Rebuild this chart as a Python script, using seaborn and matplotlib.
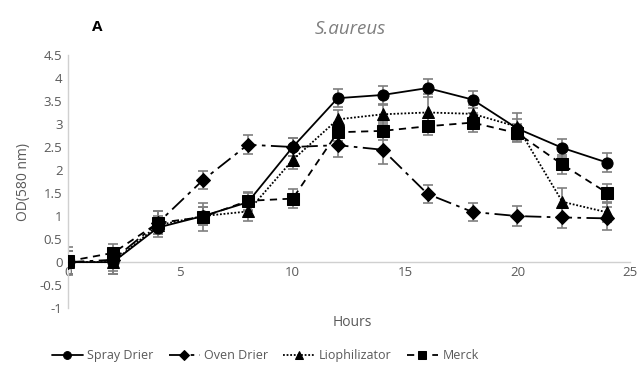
import matplotlib
matplotlib.use("Agg")
import matplotlib.pyplot as plt
import seaborn as sns
import numpy as np
import pandas as pd
from matplotlib.ticker import FuncFormatter, MultipleLocator

hours = [0, 2, 4, 6, 8, 10, 12, 14, 16, 18, 20, 22, 24]
spray = [0.0, 0.0, 0.75, 1.0, 1.3, 2.5, 3.56, 3.63, 3.78, 3.53, 2.9, 2.48, 2.16]
spray_err = [0.25, 0.25, 0.2, 0.2, 0.2, 0.2, 0.2, 0.2, 0.2, 0.18, 0.2, 0.2, 0.2]
oven = [0.0, 0.05, 0.85, 1.78, 2.55, 2.5, 2.54, 2.44, 1.48, 1.09, 1.0, 0.97, 0.95]
oven_err = [0.25, 0.25, 0.25, 0.2, 0.2, 0.2, 0.25, 0.3, 0.2, 0.2, 0.22, 0.22, 0.25]
lio = [0.0, 0.0, 0.8, 1.0, 1.1, 2.22, 3.1, 3.21, 3.25, 3.22, 2.94, 1.31, 1.08]
lio_err = [0.25, 0.25, 0.2, 0.2, 0.2, 0.2, 0.2, 0.2, 0.4, 0.2, 0.3, 0.3, 0.2]
merck = [0.02, 0.2, 0.85, 0.98, 1.33, 1.38, 2.82, 2.85, 2.95, 3.03, 2.8, 2.12, 1.5]
merck_err = [0.3, 0.2, 0.25, 0.3, 0.2, 0.2, 0.2, 0.2, 0.2, 0.2, 0.2, 0.2, 0.2]

series_names = ["Spray Drier", "Oven Drier", "Liophilizator", "Merck"]
series_vals = [spray, oven, lio, merck]
series_errs = [spray_err, oven_err, lio_err, merck_err]
markers = ["o", "D", "^", "s"]
marker_sizes = [8, 7, 8, 9]
dashes = [(None, None), (9, 3, 2, 3), (1, 1), (4, 3)]

sns.set_theme(style="white")
plt.rcParams['font.family'] = ['Open Sans', 'DejaVu Sans']

df = pd.DataFrame({
    "Hours": hours * 4,
    "OD": sum(series_vals, []),
    "Series": sum([[n] * len(hours) for n in series_names], []),
})

fig = plt.figure(figsize=(6.42, 3.66), dpi=100)
ax = fig.add_axes([0.106, 0.158, 0.875, 0.692])

grey = "#595959"
for name, vals, errs, m, ms, d in zip(series_names, series_vals, series_errs, markers, marker_sizes, dashes):
    ax.errorbar(hours, vals, yerr=errs, fmt="none", ecolor="#7f7f7f", elinewidth=1.2,
                capsize=3.5, capthick=1.2, zorder=2)
    sub = df[df["Series"] == name]
    sns.lineplot(data=sub, x="Hours", y="OD", ax=ax, color="black", marker=m,
                 markersize=ms, markeredgecolor="black", linewidth=1.3,
                 label=name, zorder=3)
    l = ax.get_lines()[-1]
    if d[0] is not None:
        l.set_dashes(d)

ax.set_xlim(0, 25)
ax.set_ylim(-1, 4.5)
ax.xaxis.set_major_locator(MultipleLocator(5))
ax.yaxis.set_major_locator(MultipleLocator(0.5))
ax.yaxis.set_major_formatter(FuncFormatter(lambda v, p: f"{v:g}"))

for s in ["top", "right"]:
    ax.spines[s].set_visible(False)
ax.spines["bottom"].set_position(("data", 0))
ax.spines["bottom"].set_color("#d0d0d0")
ax.spines["left"].set_color("#d0d0d0")
ax.spines["bottom"].set_linewidth(1.0)
ax.spines["left"].set_linewidth(1.0)
ax.tick_params(axis="both", length=0, labelsize=9.5, labelcolor=grey, pad=4)
ax.tick_params(axis="x", pad=3)
ax.set_xlabel("")
ax.set_ylabel("OD(580 nm)", fontsize=10, color=grey, labelpad=6)

fig.text(0.548, 0.12, "Hours", ha="center", va="center", fontsize=10, color=grey)
fig.text(0.545, 0.922, "S.aureus", ha="center", va="center", fontsize=13.5,
         color="#7f7f7f", style="italic")
fig.text(0.151, 0.927, "A", ha="center", va="center", fontsize=11, fontweight="bold",
         color="black")

if ax.get_legend():
    ax.get_legend().remove()
handles, labels = ax.get_legend_handles_labels()
leg = fig.legend(handles, labels, loc="center", bbox_to_anchor=(0.413, 0.028), ncol=4,
                 frameon=False, fontsize=9, handlelength=2.5, columnspacing=1.2,
                 handletextpad=0.35, markerscale=0.7)
for t in leg.get_texts():
    t.set_color(grey)

fig.savefig("out.png", dpi=100)
